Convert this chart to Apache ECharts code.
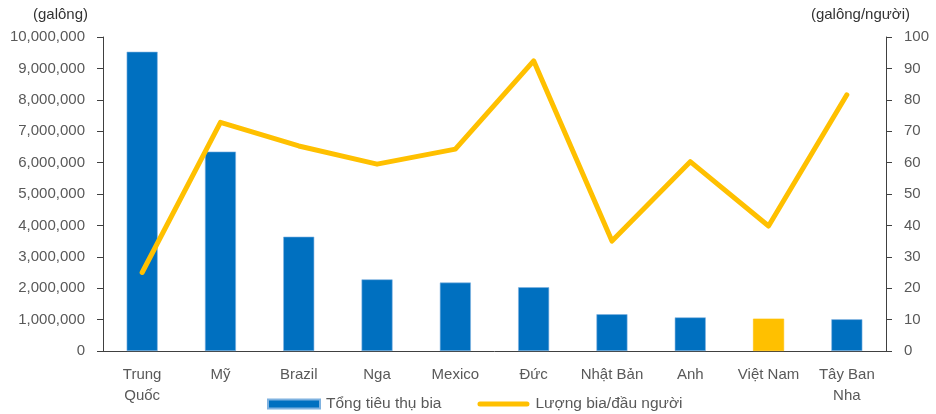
<!DOCTYPE html>
<html>
<head>
<meta charset="utf-8">
<script src="https://cdn.jsdelivr.net/npm/echarts@6/dist/echarts.min.js"></script>
<style>
  html, body { margin: 0; padding: 0; background: #fff; }
  #chart { width: 936px; height: 414px; }
</style>
</head>
<body>
<div id="chart"></div>
<script>
// Countries (category axis)
const countries = ['Trung\nQuốc', 'Mỹ', 'Brazil', 'Nga', 'Mexico', 'Đức', 'Nhật Bản', 'Anh', 'Việt Nam', 'Tây Ban\nNha'];
// Total beer consumption (gallons)
const totalConsumption = [9530000, 6350000, 3640000, 2280000, 2180000, 2030000, 1170000, 1070000, 1030000, 1010000];
// Beer per capita (gallons/person)
const perCapita = [25, 72.8, 65.3, 59.5, 64.3, 92.4, 35, 60.3, 39.8, 81.6];
// Highlighted country
const highlight = 'Việt Nam';

const seriesNames = ['Tổng tiêu thụ bia', 'Lượng bia/đầu người'];
const leftUnit = '(galông)';
const rightUnit = '(galông/người)';

const BLUE = '#0070C0';
const GOLD = '#FFC000';
const TEXT = '#595959';
const AXIS = '#404040';
const FONT = "'Liberation Sans', Arial, sans-serif";

// Thick line with rounded ends for the per-capita legend entry
const LINE_ICON = 'path://M2.5,0 H49.5 A2.5,2.5 0 0 1 49.5,5 H2.5 A2.5,2.5 0 0 1 2.5,0 Z';

const chart = echarts.init(document.getElementById('chart'), null, { renderer: 'canvas' });

chart.setOption({
  animation: false,
  textStyle: { fontFamily: FONT },
  grid: { left: 103, right: 50, top: 37, bottom: 63, containLabel: false },
  legend: {
    top: 396,
    left: 267,
    itemGap: 36,
    itemWidth: 52,
    itemHeight: 9,
    padding: 0,
    textStyle: { color: TEXT, fontSize: 15.5, fontFamily: FONT, padding: [0, 0, 0, 1] },
    data: [
      { name: seriesNames[0], icon: 'rect' },
      { name: seriesNames[1], icon: LINE_ICON, itemStyle: { color: GOLD, borderWidth: 0 } }
    ]
  },
  graphic: [
    { type: 'text', left: 33, top: 7, style: { text: leftUnit, fill: '#333', font: "15px 'Liberation Sans', Arial" } },
    { type: 'text', right: 26, top: 7, style: { text: rightUnit, fill: '#333', font: "15px 'Liberation Sans', Arial" } }
  ],
  xAxis: {
    type: 'category',
    data: countries,
    axisLine: { lineStyle: { color: AXIS, width: 1 } },
    axisTick: { show: false },
    axisLabel: { color: TEXT, fontSize: 15, lineHeight: 21, margin: 13, interval: 0 }
  },
  yAxis: [
    {
      type: 'value',
      min: 0, max: 10000000, interval: 1000000,
      splitLine: { show: false },
      axisLine: { show: true, lineStyle: { color: AXIS } },
      axisTick: { show: true, length: 6, lineStyle: { color: AXIS } },
      axisLabel: {
        color: TEXT, fontSize: 15, margin: 18,
        formatter: v => v.toLocaleString('en-US')
      }
    },
    {
      type: 'value',
      min: 0, max: 100, interval: 10,
      splitLine: { show: false },
      axisLine: { show: true, lineStyle: { color: AXIS } },
      axisTick: { show: true, length: 6, lineStyle: { color: AXIS } },
      axisLabel: { color: TEXT, fontSize: 15, margin: 18 }
    }
  ],
  series: [
    {
      name: seriesNames[0],
      type: 'bar',
      yAxisIndex: 0,
      barWidth: 31,
      itemStyle: { color: BLUE, borderColor: '#7FB2E0', borderWidth: 0.6 },
      data: totalConsumption.map((v, i) => ({
        value: v,
        itemStyle: countries[i] === highlight ? { color: GOLD, borderColor: GOLD } : undefined
      }))
    },
    {
      name: seriesNames[1],
      type: 'line',
      yAxisIndex: 1,
      data: perCapita,
      showSymbol: false,
      symbol: 'none',
      itemStyle: { color: GOLD },
      lineStyle: { color: GOLD, width: 5, cap: 'round', join: 'round' },
      z: 3
    }
  ]
});
</script>
</body>
</html>
